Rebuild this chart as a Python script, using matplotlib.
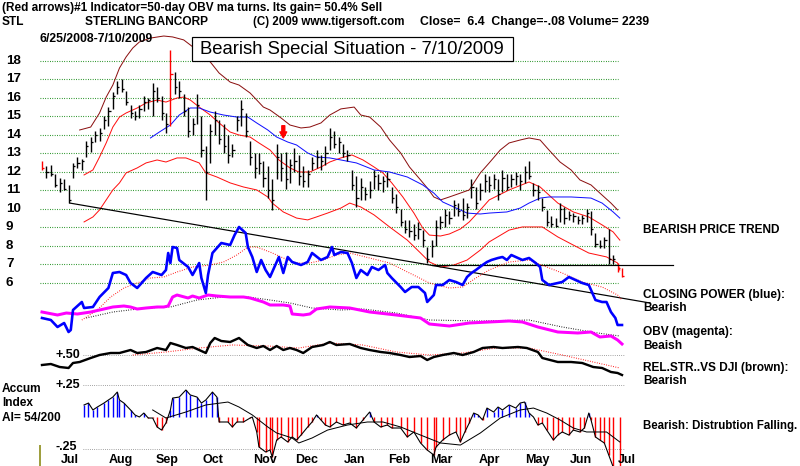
import numpy as np
from matplotlib import pyplot as plt
from matplotlib.patches import Rectangle

W, H = 800, 466
plt.rcParams['font.family'] = ['Liberation Sans', 'DejaVu Sans']

# trading days counted from 6/25/2008 (day 0) to 7/10/2009 (day 262)
x_lim = (-18.97, 342.4)

# ---- price bars, every second trading day ----
bar_day = np.arange(0, 263, 2)
bar_high = [12.6, 12.3, 12.4, 11.9, 11.7, 11.6, 11.3, 12.5, 12.8, 12.7,
            13.7, 13.9, 14.2, 14.4, 15.0, 15.5, 16.3, 16.9, 17.0, 16.4,
            15.6, 15.3, 15.6, 16.1, 16.0, 16.8, 16.6, 16.1, 15.2, 18.6,
            17.4, 16.9, 16.2, 15.5, 14.9, 16.2, 15.0, 13.4, 14.6, 15.3,
            14.8, 14.6, 14.0, 13.5, 15.0, 15.9, 15.2, 13.7, 13.0, 13.0,
            12.6, 12.3, 11.6, 13.5, 13.0, 13.1, 12.7, 13.3, 12.9, 12.3,
            12.1, 12.8, 13.2, 12.9, 13.4, 14.4, 14.2, 13.9, 13.5, 13.2,
            12.1, 11.8, 11.7, 11.2, 11.5, 12.1, 11.9, 11.8, 12.0, 11.2,
            10.8, 10.0, 9.4, 9.4, 9.2, 9.3, 8.85, 7.95, 8.3, 9.4,
            9.6, 10.0, 9.9, 10.5, 10.3, 10.6, 10.3, 11.6, 11.2, 11.4,
            11.9, 11.8, 11.9, 11.6, 12.1, 11.9, 11.9, 12.0, 11.9, 12.3,
            12.6, 11.4, 11.3, 10.6, 9.95, 9.6, 9.5, 10.3, 10.1, 9.9,
            9.8, 9.6, 9.7, 10.0, 9.9, 8.7, 8.3, 8.5, 8.9, 7.5,
            7.1, 6.8]
bar_low = [12.1, 11.7, 11.8, 11.2, 10.9, 11.0, 10.3, 11.7, 12.2, 12.1,
           12.8, 13.1, 13.6, 13.7, 14.3, 14.5, 15.4, 16.2, 16.3, 15.6,
           14.9, 14.8, 14.9, 15.3, 15.4, 15.0, 15.8, 14.8, 14.1, 14.5,
           16.2, 16.0, 15.0, 13.9, 14.0, 14.6, 12.8, 10.5, 12.5, 14.0,
           13.5, 13.0, 12.5, 12.8, 14.2, 14.5, 13.9, 12.4, 11.7, 11.9,
           11.2, 10.6, 9.95, 11.6, 11.5, 11.1, 11.4, 12.0, 11.3, 11.2,
           11.2, 12.1, 12.2, 12.1, 12.4, 13.2, 13.3, 13.0, 12.8, 12.6,
           11.0, 10.1, 10.5, 10.5, 10.6, 11.1, 11.0, 10.9, 11.2, 10.3,
           9.8, 9.1, 8.7, 8.5, 8.3, 8.4, 7.95, 7.1, 7.4, 8.0,
           8.9, 9.0, 9.2, 9.6, 9.6, 9.4, 9.5, 10.6, 10.0, 10.5,
           10.9, 10.9, 11.1, 10.5, 10.9, 11.0, 11.2, 11.3, 11.0, 11.4,
           11.6, 10.7, 10.5, 9.9, 9.1, 9.0, 9.0, 9.3, 9.2, 9.4,
           9.3, 9.2, 9.2, 9.3, 8.6, 7.95, 7.9, 7.9, 7.0, 7.0,
           6.6, 6.35]
bar_close = [12.2, 12.0, 11.9, 11.3, 11.4, 11.1, 10.5, 12.3, 12.5, 12.6,
             13.4, 13.6, 14.0, 14.1, 14.8, 15.3, 16.1, 16.6, 16.5, 15.8,
             15.2, 15.0, 15.4, 15.8, 15.9, 16.4, 16.0, 15.2, 14.6, 17.3,
             16.6, 16.4, 15.3, 14.2, 14.6, 15.6, 13.2, 12.0, 14.2, 14.8,
             13.8, 13.4, 12.9, 13.2, 14.8, 15.4, 14.2, 12.8, 12.2, 12.5,
             11.7, 11.0, 10.5, 12.8, 12.2, 11.6, 12.4, 12.6, 11.8, 11.5,
             11.9, 12.5, 12.8, 12.6, 13.0, 13.9, 13.5, 13.6, 13.0, 12.9,
             11.3, 10.6, 11.2, 10.8, 11.0, 11.8, 11.4, 11.5, 11.6, 10.6,
             10.1, 9.3, 8.9, 8.8, 8.6, 8.9, 8.3, 7.3, 8.0, 9.0,
             9.3, 9.7, 9.5, 10.2, 9.9, 9.7, 10.1, 11.2, 10.3, 11.0,
             11.5, 11.3, 11.6, 10.8, 11.7, 11.2, 11.6, 11.8, 11.5, 12.0,
             11.8, 11.0, 10.9, 10.1, 9.3, 9.2, 9.1, 10.0, 9.5, 9.7,
             9.6, 9.4, 9.5, 9.8, 8.9, 8.1, 8.0, 8.3, 7.3, 7.3,
             6.8, 6.4]
red_bar_days = [0, 58, 260, 262]

# ---- price moving averages / bands ----
upper_day = [17, 22, 26, 29, 32, 35, 38, 41, 44, 49, 55, 59, 64, 71, 76, 80, 85, 89, 94, 97,
             100, 103, 108, 112, 117, 121, 126, 130, 135, 141, 144, 148, 153, 157, 162, 166,
             171, 174, 177, 180, 184, 189, 193, 198, 202, 207, 211, 216, 220, 225, 229, 234,
             239, 243, 248, 252, 257, 260]
upper_val = [14.27, 14.43, 15.19, 16.05, 16.70, 17.62, 18.22, 18.70, 19.03, 19.24, 19.35,
             19.30, 19.14, 18.5, 17.95, 17.35, 16.86, 16.70, 16.27, 15.89, 15.51, 15.35,
             14.92, 14.54, 14.38, 14.43, 14.65, 15.08, 15.41, 15.51, 15.08, 14.97, 14.43,
             13.73, 13.03, 12.27, 11.57, 11.14, 10.65, 10.49, 10.65, 10.86, 11.03, 11.95,
             12.49, 13.19, 13.57, 13.73, 13.84, 13.73, 13.19, 12.54, 12.11, 11.57, 11.30,
             10.86, 10.32, 9.95]
mid_day = [19, 23, 26, 29, 32, 35, 38, 43, 47, 52, 56, 61, 64, 67, 71, 76, 80, 85, 89, 94,
           98, 103, 107, 112, 116, 121, 126, 130, 135, 140, 145, 150, 154, 158, 163, 168,
           172, 175, 180, 184, 189, 193, 198, 202, 211, 220, 225, 233, 240, 247, 253, 258, 261]
mid_val = [11.84, 12.11, 12.81, 13.57, 14.43, 14.97, 15.19, 15.46, 15.73, 15.89, 15.78,
           16.0, 16.05, 15.89, 15.51, 15.08, 14.65, 14.16, 14.0, 13.89, 13.57, 13.19, 12.65,
           12.22, 12.0, 12.0, 12.27, 12.54, 12.76, 12.92, 12.65, 12.27, 11.95, 11.41, 10.65,
           9.78, 8.97, 8.59, 8.54, 8.65, 8.92, 9.30, 9.95, 10.49, 11.03, 11.46, 11.19,
           10.32, 9.84, 9.57, 9.14, 8.76, 8.32]
lower_day = [19, 23, 26, 29, 32, 35, 38, 43, 47, 52, 56, 61, 65, 71, 74, 79, 85, 91, 97, 102,
             104, 109, 115, 120, 124, 129, 135, 139, 144, 150, 157, 165, 171, 175, 180, 186,
             192, 198, 202, 211, 217, 226, 233, 240, 247, 255, 260, 261]
lower_val = [9.30, 9.57, 9.95, 10.49, 11.03, 11.41, 11.95, 12.22, 12.49, 12.65, 12.54,
             12.76, 12.76, 12.49, 11.95, 11.73, 11.41, 11.19, 11.03, 10.65, 10.32, 9.84,
             9.51, 9.41, 9.57, 9.78, 10.05, 10.32, 10.11, 9.68, 9.03, 8.32, 7.62, 7.14,
             6.86, 6.97, 7.24, 7.78, 8.22, 8.86, 9.03, 9.03, 8.49, 8.05, 7.62, 7.41, 7.08, 6.70]
ma50_day = [49, 53, 58, 62, 67, 71, 76, 82, 88, 93, 97, 102, 106, 111, 115, 120, 124, 130,
            135, 142, 150, 157, 165, 172, 177, 181, 186, 192, 198, 202, 210, 216, 220, 225,
            229, 239, 248, 253, 258, 261]
ma50_val = [13.84, 14.16, 14.54, 15.08, 15.46, 15.46, 15.24, 15.08, 14.97, 14.97, 14.65,
            14.27, 13.89, 13.62, 13.46, 13.03, 12.81, 12.76, 12.65, 12.49, 12.11, 12.0,
            11.73, 11.30, 10.86, 10.38, 10.11, 9.78, 9.73, 9.78, 9.84, 10.05, 10.32, 10.59,
            10.65, 10.65, 10.59, 10.32, 9.84, 9.51]

trend_day = [12.6, 274.6]
trend_price = [10.32, 4.92]
flat_day = [176, 285]
flat_price = [6.97, 6.97]
arrow_day, arrow_top, arrow_tip = 109, 14.5, 13.85

# ---- closing power (blue) and its ma ----
cp_day = [0, 4, 7, 10, 12, 13, 14, 18, 19, 23, 26, 30, 32, 35, 38, 40, 43, 47, 50, 54,
          56, 57, 58, 59, 61, 62, 66, 68, 71, 72, 74, 75, 77, 79, 81, 85, 87, 89, 92, 93,
          95, 97, 99, 101, 103, 105, 107, 109, 111, 113, 117, 120, 122, 126, 129, 131, 132,
          135, 138, 140, 142, 144, 147, 149, 152, 155, 156, 158, 162, 164, 167, 170, 173,
          174, 177, 178, 181, 184, 187, 190, 192, 194, 196, 199, 201, 203, 206, 208, 210,
          212, 215, 217, 220, 223, 225, 226, 229, 233, 235, 238, 241, 244, 247, 250, 253,
          255, 257, 259, 260, 262]
cp_val = [182, 180, 173, 177, 168, 170, 190, 198, 192, 193, 203, 212, 227, 228, 225, 217,
          212, 222, 228, 225, 230, 247, 237, 253, 252, 240, 233, 225, 237, 222, 207, 225,
          247, 252, 257, 255, 265, 273, 267, 253, 243, 228, 240, 230, 223, 233, 243, 227,
          243, 238, 235, 238, 247, 240, 243, 253, 245, 248, 247, 237, 222, 230, 225, 233,
          230, 235, 227, 222, 213, 208, 213, 213, 207, 198, 205, 215, 215, 220, 218, 215,
          223, 227, 230, 235, 238, 240, 242, 243, 240, 245, 242, 240, 242, 237, 233, 220,
          215, 217, 218, 223, 220, 217, 215, 200, 198, 198, 188, 182, 175, 175]
cpma_day = [18, 25, 31, 37, 43, 49, 55, 61, 68, 76, 82, 88, 93, 97, 103, 109, 115, 121, 127,
            133, 139, 148, 157, 166, 175, 184, 190, 196, 202, 211, 220, 228, 235, 244, 253,
            260, 262]
cpma_val = [180, 190, 203, 212, 217, 222, 223, 228, 233, 235, 238, 245, 253, 253, 248, 242,
            237, 237, 240, 245, 247, 242, 237, 227, 217, 212, 213, 222, 230, 238, 240, 233,
            227, 218, 213, 205, 200]

# ---- OBV (magenta) and its ma ----
obv_day = [0, 7, 11, 16, 22, 26, 32, 37, 40, 43, 47, 52, 55, 57, 59, 61, 66, 68, 71, 75,
           79, 85, 91, 94, 97, 100, 103, 109, 112, 113, 118, 121, 124, 130, 139, 148, 160,
           171, 175, 184, 193, 202, 211, 217, 224, 233, 242, 248, 252, 257, 260, 262]
obv_val = [188, 185, 187, 186, 188, 190, 193, 194, 193, 191, 192, 193, 193, 194, 203, 205,
           202, 204, 202, 205, 204, 203, 203, 202, 200, 198, 195, 195, 194, 186, 185, 186,
           191, 193, 192, 188, 185, 182, 176, 174, 177, 178, 179, 178, 173, 168, 167, 168,
           163, 164, 160, 156]
obvma_day = [20, 32, 47, 58, 70, 82, 93, 103, 112, 122, 135, 145, 160, 175, 198, 220, 235,
             251, 261]
obvma_val = [182, 188, 192, 193, 200, 203, 203, 200, 197, 192, 190, 191, 187, 180, 179, 180,
             173, 167, 164]

# ---- relative strength vs DJI and its ma ----
rs_day = [0, 4, 8, 12, 14, 17, 22, 26, 31, 35, 40, 43, 47, 52, 56, 58, 61, 65, 68, 71,
          74, 76, 78, 81, 85, 89, 93, 97, 100, 103, 106, 109, 112, 115, 118, 122, 127, 130,
          133, 139, 144, 148, 153, 157, 162, 166, 171, 174, 177, 181, 186, 190, 195, 199,
          204, 208, 215, 219, 224, 226, 233, 239, 244, 249, 253, 257, 260, 262]
rs_val = [0.45, 0.455, 0.44, 0.435, 0.46, 0.465, 0.485, 0.50, 0.51, 0.51,
          0.525, 0.51, 0.515, 0.535, 0.525, 0.56, 0.55, 0.535, 0.54, 0.525,
          0.51, 0.56, 0.585, 0.57, 0.565, 0.585, 0.55, 0.535, 0.545, 0.525,
          0.545, 0.525, 0.535, 0.525, 0.51, 0.54, 0.55, 0.565, 0.55, 0.555,
          0.535, 0.525, 0.515, 0.51, 0.50, 0.49, 0.495, 0.475, 0.49, 0.50,
          0.51, 0.50, 0.515, 0.535, 0.54, 0.535, 0.54, 0.535, 0.515, 0.485,
          0.465, 0.465, 0.46, 0.44, 0.435, 0.415, 0.41, 0.40]
rsma_day = [41, 56, 71, 86, 102, 116, 130, 145, 160, 175, 190, 205, 220, 235, 251, 261]
rsma_val = [0.50, 0.515, 0.535, 0.55, 0.545, 0.535, 0.56, 0.55, 0.515, 0.50, 0.51, 0.535,
            0.535, 0.50, 0.46, 0.435]

# ---- accumulation index and its ma ----
ai_day = [19, 21, 23, 25, 28, 30, 32, 34, 35, 37, 40, 42, 44, 46, 48, 50, 52, 54, 56, 58,
          59, 62, 65, 67, 70, 72, 74, 77, 79, 80, 84, 86, 88, 91, 94, 95, 97, 98, 101, 103,
          104, 106, 108, 111, 113, 115, 117, 120, 122, 124, 126, 128, 130, 133, 136, 139,
          142, 145, 148, 150, 153, 156, 158, 162, 165, 168, 171, 174, 177, 178, 181, 184,
          187, 189, 191, 193, 195, 197, 199, 201, 204, 206, 208, 211, 214, 216, 218, 220,
          222, 224, 226, 228, 231, 233, 235, 238, 240, 243, 245, 247, 248, 250, 252, 254,
          256, 258, 261]
ai_val = [0.094, 0.109, 0.055, 0.078, 0.109, 0.133, 0.156, 0.195, 0.133, 0.109,
          0.055, 0.016, 0.0, 0.031, -0.008, -0.008, -0.078, -0.102, -0.047, 0.055,
          0.148, 0.156, 0.211, 0.172, 0.156, 0.109, 0.133, 0.195, 0.156, -0.039,
          -0.039, -0.078, -0.039, -0.039, -0.008, 0.0, -0.117, -0.234, -0.273, -0.258,
          -0.3125, -0.18, -0.156, -0.195, -0.156, -0.18, -0.141, -0.078, -0.039, 0.016,
          -0.023, -0.0625, -0.078, -0.039, -0.0625, -0.047, -0.086, -0.023, 0.039, -0.039,
          -0.078, -0.0625, -0.086, -0.086, -0.156, -0.117, -0.203, -0.258, -0.297, -0.234,
          -0.18, -0.141, -0.117, -0.195, -0.117, -0.047, 0.031, 0.016, -0.023, 0.070,
          0.039, 0.078, 0.055, 0.094, 0.070, 0.109, 0.117, 0.031, 0.0, -0.0625,
          -0.047, -0.102, -0.18, -0.141, -0.117, -0.141, -0.102, -0.117, -0.086, 0.031,
          -0.023, -0.156, -0.18, -0.203, -0.297, -0.39, -0.39]
aima_day = [50, 56, 65, 74, 84, 89, 95, 102, 106, 113, 116, 122, 129, 138, 147, 154, 162,
            171, 180, 189, 198, 207, 216, 222, 228, 234, 240, 246, 255, 261]
aima_val = [0.055, -0.008, 0.039, 0.094, 0.117, 0.078, 0.016, -0.078, -0.125, -0.164,
            -0.203, -0.164, -0.102, -0.0625, -0.039, -0.039, -0.078, -0.141, -0.203, -0.219,
            -0.125, -0.008, 0.055, 0.070, 0.031, -0.023, -0.086, -0.117, -0.117, -0.195]

price_ticks = list(range(6, 19))
month_names = ['Jul', 'Aug', 'Sep', 'Oct', 'Nov', 'Dec', 'Jan', 'Feb', 'Mar', 'Apr',
               'May', 'Jun', 'Jul']
month_start = [4, 26, 47, 68, 91, 110, 132, 152, 171, 193, 214, 234, 256]

# ---- figure ----
fig = plt.figure(figsize=(W / 100, H / 100), dpi=100)
px = 0.72  # one pixel in points


def layer(ylim):
    a = fig.add_axes([0, 0, 1, 1], facecolor='none')
    a.set_xlim(*x_lim)
    a.set_ylim(*ylim)
    a.axis('off')
    return a


ax = layer((-3.892, 21.297))
ax_cp = layer((34, 500))
ax_rs = layer((-0.055, 2.275))
ax_ai = layer((-0.3828, 3.2578))

dots = (0, (px, 2 * px))
bold = dict(fontweight='bold', fontsize=9)

# price panel
ax.hlines(price_ticks, -1, 260.2, colors='#008000', linestyles=[dots], lw=1.1 * px)
for p in price_ticks:
    ax.text(-16.3, p, str(p), va='center', ha='left', fontweight='bold', fontsize=9.6)
ax.plot(upper_day, upper_val, color='#8b1010', lw=px)
ax.plot(mid_day, mid_val, color='#ff1010', lw=px)
ax.plot(lower_day, lower_val, color='#ff1010', lw=px)
ax.plot(ma50_day, ma50_val, color='#1010ff', lw=px)
bar_col = ['red' if d in red_bar_days else 'black' for d in bar_day]
ax.vlines(bar_day, bar_low, bar_high, colors=bar_col, lw=1.4 * px)
ax.hlines(bar_close, bar_day, bar_day + 1.0, colors=bar_col, lw=1.3 * px)
ax.plot(trend_day, trend_price, color='black', lw=1.2 * px)
ax.plot(flat_day, flat_price, color='black', lw=1.2 * px)
ax.annotate('', xy=(arrow_day, arrow_tip), xytext=(arrow_day, arrow_top),
            arrowprops=dict(arrowstyle='simple,head_width=0.7,head_length=0.6,tail_width=0.3',
                            color='red', shrinkA=0, shrinkB=0, mutation_scale=7))

# closing power and OBV
ax_cp.plot(cpma_day, cpma_val, color='red', lw=1.1 * px, linestyle=dots)
ax_cp.plot(obvma_day, obvma_val, color='black', lw=1.1 * px, linestyle=dots)
ax_cp.plot(obv_day, obv_val, color='#ff00ff', lw=3 * px, solid_joinstyle='round')
ax_cp.plot(cp_day, cp_val, color='#0000ff', lw=2.6 * px, solid_joinstyle='round')

# relative strength
ax_rs.hlines(0.5, 18.5, 263, colors='#888888', linestyles=[dots], lw=px)
ax_rs.text(5.9, 0.5, '+.50', va='center', ha='left', **bold)
ax_rs.plot(rsma_day, rsma_val, color='red', lw=1.1 * px, linestyle=dots)
ax_rs.plot(rs_day, rs_val, color='black', lw=2.4 * px, solid_joinstyle='round')

# accumulation index
ax_ai.hlines([0.25, -0.25], 18.5, 263, colors='#888888', linestyles=[dots], lw=px)
ax_ai.text(5.9, 0.25, '+.25', va='center', ha='left', **bold)
ax_ai.text(5.9, -0.232, '-.25', va='center', ha='left', **bold)
ai_col = ['#0000ff' if v > 0 else 'red' for v in ai_val]
ax_ai.vlines(ai_day, 0, ai_val, colors=ai_col, lw=1.4 * px)
ax_ai.plot(ai_day, ai_val, color='black', lw=1.1 * px)
ax_ai.plot(aima_day, aima_val, color='black', lw=px)
ax_ai.vlines(-0.9, -0.39, -0.22, colors='#808000', lw=1.5 * px)
for name, d in zip(month_names, month_start):
    ax_ai.text(d + 4.3, -0.335, name, va='center', ha='left', **bold)


def ftext(x, y, s, **kw):
    opts = dict(fontweight='bold', fontsize=8.6, va='center', ha='left')
    opts.update(kw)
    fig.text(x / W, 1 - y / H, s, **opts)


ftext(2, 8, '(Red arrows)#1 Indicator=50-day OBV ma turns. Its gain= 50.4% Sell', fontsize=8.5)
ftext(2, 22, 'STL', fontsize=8.6)
ftext(85, 22, 'STERLING BANCORP', fontsize=8.6)
ftext(253, 22, '(C) 2009 www.tigersoft.com', fontsize=8.3)
ftext(420, 22, 'Close=  6.4  Change=-.08 Volume= 2239', fontsize=8.8)
ftext(40, 39, '6/25/2008-7/10/2009', fontsize=8.8)

fig.add_artist(Rectangle((192 / W, 1 - 61 / H), 321 / W, 24 / H, transform=fig.transFigure,
                         fc='white', ec='black', lw=1.2 * px, zorder=5))
ftext(200, 49, 'Bearish Special Situation - 7/10/2009', fontweight='normal',
      fontsize=13.3, zorder=6)

ftext(643, 230, 'BEARISH PRICE TREND')
ftext(643, 295, 'CLOSING POWER (blue):')
ftext(643, 308, 'Bearish')
ftext(643, 332, 'OBV (magenta):')
ftext(643, 346, 'Beaish')
ftext(643, 368, 'REL.STR..VS DJI (brown):')
ftext(643, 381, 'Bearish')
ftext(643, 426, 'Bearish: Distrubtion Falling.', fontsize=8.3)
ftext(2, 389, 'Accum')
ftext(2, 403, 'Index')
ftext(2, 418, 'AI= 54/200')

fig.savefig('out.png', dpi=100)
